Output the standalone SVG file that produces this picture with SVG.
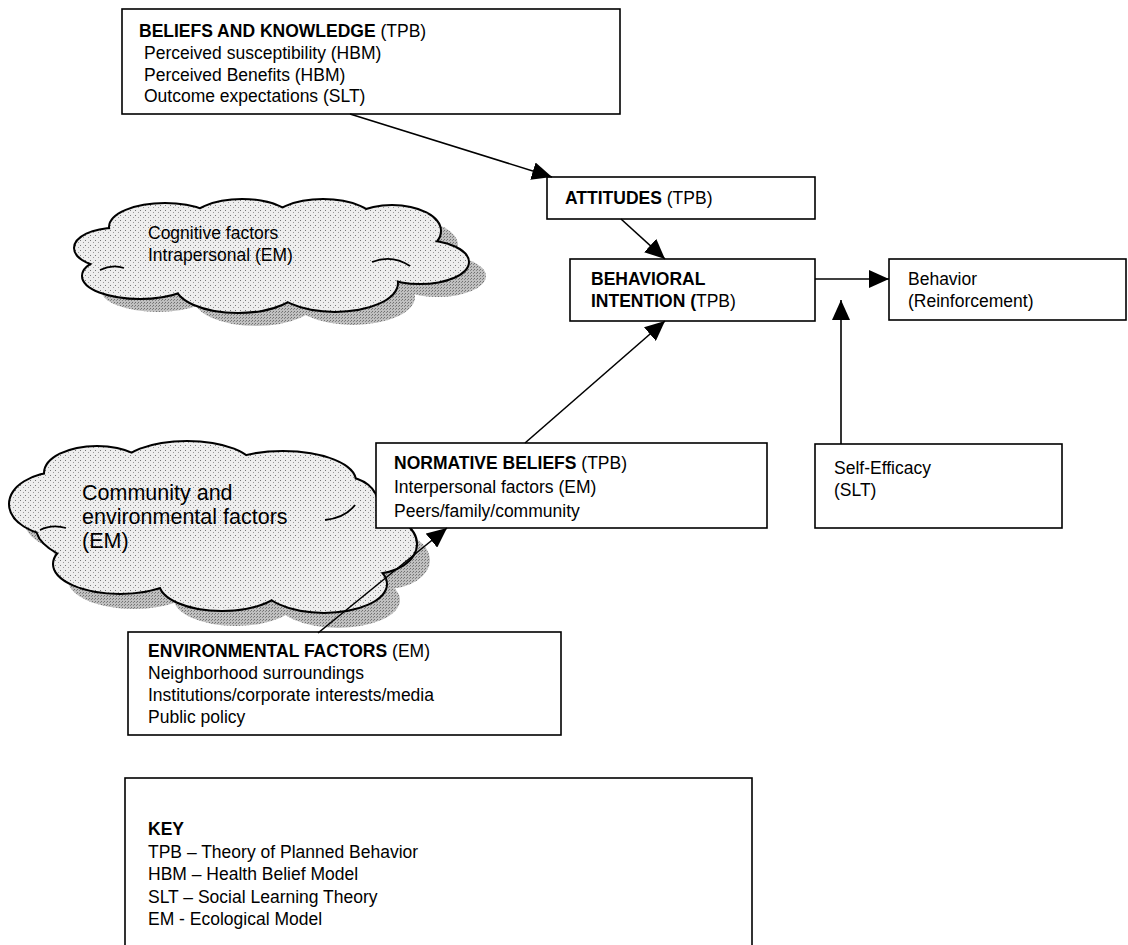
<svg xmlns="http://www.w3.org/2000/svg" width="1128" height="945" viewBox="0 0 1128 945">
<style>
  .box { fill: #fff; stroke: #000; stroke-width: 1.6; }
  .t { font-family: "Liberation Sans", Arial, sans-serif; font-size: 17.5px; fill: #000; }
  .ct { font-family: "Liberation Sans", Arial, sans-serif; font-size: 21.5px; fill: #000; }
  .b { font-weight: bold; }
  .conn { stroke: #000; stroke-width: 1.6; fill: none; marker-end: url(#ah); }
  .cl-s { fill: url(#shade); stroke: none; }
  .cl-o { fill: none; stroke: #000; stroke-width: 4; }
  .cl-f { fill: url(#stip); stroke: none; }
  .curl { fill: none; stroke: #000; stroke-width: 1.8; }
</style>
<defs>
  <marker id="ah" viewBox="0 0 20 18" refX="20" refY="9" markerWidth="20" markerHeight="18" markerUnits="userSpaceOnUse" orient="auto">
    <path d="M0,0 L20,9 L0,18 Z" fill="#000"/>
  </marker>
  <pattern id="stip" width="5" height="5" patternUnits="userSpaceOnUse">
    <rect width="5" height="5" fill="#eeeeee"/>
    <rect x="0" y="0" width="1" height="1" fill="#777"/>
    <rect x="3" y="2" width="1" height="1" fill="#999"/>
  </pattern>
  <pattern id="shade" width="3" height="3" patternUnits="userSpaceOnUse">
    <rect width="3" height="3" fill="#c0c0c0"/>
    <rect x="0" y="0" width="1" height="1" fill="#707070"/>
    <rect x="2" y="1" width="1" height="1" fill="#858585"/>
  </pattern>
  <g id="cog">
    <ellipse cx="115" cy="248" rx="40" ry="19"/>
    <ellipse cx="165" cy="227" rx="55" ry="23"/>
    <ellipse cx="242" cy="223" rx="52" ry="23"/>
    <ellipse cx="323" cy="223" rx="52" ry="23"/>
    <ellipse cx="392" cy="231" rx="48" ry="25"/>
    <ellipse cx="420" cy="262" rx="48" ry="21"/>
    <ellipse cx="335" cy="283" rx="62" ry="28"/>
    <ellipse cx="238" cy="285" rx="62" ry="27"/>
    <ellipse cx="140" cy="276" rx="57" ry="22"/>
    <ellipse cx="265" cy="255" rx="155" ry="38"/>
  </g>
  <g id="com">
    <ellipse cx="60" cy="504" rx="50" ry="31"/>
    <ellipse cx="97" cy="473" rx="52" ry="26"/>
    <ellipse cx="187" cy="468" rx="66" ry="26"/>
    <ellipse cx="283" cy="481" rx="72" ry="29"/>
    <ellipse cx="345" cy="504" rx="32" ry="26"/>
    <ellipse cx="372" cy="544" rx="44" ry="29"/>
    <ellipse cx="324" cy="584" rx="62" ry="28"/>
    <ellipse cx="222" cy="583" rx="62" ry="27"/>
    <ellipse cx="120" cy="564" rx="66" ry="29"/>
    <ellipse cx="212" cy="528" rx="175" ry="52"/>
  </g>
</defs>
<rect width="1128" height="945" fill="#fff"/>

<g id="cloud-cognitive">
  <use href="#cog" class="cl-s" transform="translate(18,14)"/>
  <use href="#cog" class="cl-o"/>
  <use href="#cog" class="cl-f"/>
  <path class="curl" d="M372,262 Q392,254 410,266"/>
  <path class="curl" d="M100,270 Q112,264 124,268"/>
  <text class="t" x="148" y="239">Cognitive factors</text>
  <text class="t" x="148" y="261">Intrapersonal (EM)</text>
</g>

<g id="cloud-community">
  <use href="#com" class="cl-s" transform="translate(14,16)"/>
  <use href="#com" class="cl-o"/>
  <use href="#com" class="cl-f"/>
  <path class="curl" d="M325,520 Q345,518 355,505"/>
  <path class="curl" d="M40,530 Q52,524 66,528"/>
  <text class="ct" x="82" y="500">Community and</text>
  <text class="ct" x="82" y="524">environmental factors</text>
  <text class="ct" x="82" y="548">(EM)</text>
</g>

<g id="beliefs">
  <rect class="box" x="122" y="9" width="498" height="105"/>
  <text class="t" x="139" y="37"><tspan class="b">BELIEFS AND KNOWLEDGE</tspan> (TPB)</text>
  <text class="t" x="144" y="59">Perceived susceptibility (HBM)</text>
  <text class="t" x="144" y="81">Perceived Benefits (HBM)</text>
  <text class="t" x="144" y="102">Outcome expectations (SLT)</text>
</g>

<g id="attitudes">
  <rect class="box" x="547" y="177" width="268" height="42"/>
  <text class="t" x="565" y="204"><tspan class="b">ATTITUDES</tspan> (TPB)</text>
</g>

<g id="intention">
  <rect class="box" x="570" y="259" width="245" height="62"/>
  <text class="t" x="591" y="285"><tspan class="b">BEHAVIORAL</tspan></text>
  <text class="t" x="591" y="307"><tspan class="b">INTENTION (</tspan>TPB)</text>
</g>

<g id="behavior">
  <rect class="box" x="889" y="259" width="237" height="61"/>
  <text class="t" x="908" y="285">Behavior</text>
  <text class="t" x="908" y="307">(Reinforcement)</text>
</g>

<g id="normative">
  <rect class="box" x="376" y="443" width="391" height="85"/>
  <text class="t" x="394" y="469"><tspan class="b">NORMATIVE BELIEFS</tspan> (TPB)</text>
  <text class="t" x="394" y="493">Interpersonal factors (EM)</text>
  <text class="t" x="394" y="517">Peers/family/community</text>
</g>

<g id="self-efficacy">
  <rect class="box" x="815" y="444" width="247" height="84"/>
  <text class="t" x="834" y="474">Self-Efficacy</text>
  <text class="t" x="834" y="496">(SLT)</text>
</g>

<g id="environmental">
  <rect class="box" x="128" y="632" width="433" height="103"/>
  <text class="t" x="148" y="657"><tspan class="b">ENVIRONMENTAL FACTORS</tspan> (EM)</text>
  <text class="t" x="148" y="679">Neighborhood surroundings</text>
  <text class="t" x="148" y="701">Institutions/corporate interests/media</text>
  <text class="t" x="148" y="723">Public policy</text>
</g>

<g id="key">
  <rect class="box" x="125" y="778" width="627" height="180"/>
  <text class="t" x="148" y="835"><tspan class="b">KEY</tspan></text>
  <text class="t" x="148" y="858">TPB – Theory of Planned Behavior</text>
  <text class="t" x="148" y="880">HBM – Health Belief Model</text>
  <text class="t" x="148" y="903">SLT – Social Learning Theory</text>
  <text class="t" x="148" y="925">EM - Ecological Model</text>
</g>

<g id="connectors">
  <line class="conn" x1="350" y1="114" x2="552" y2="177"/>
  <line class="conn" x1="621" y1="219" x2="665" y2="259"/>
  <line class="conn" x1="525" y1="443" x2="665" y2="321"/>
  <line class="conn" x1="815" y1="279" x2="889" y2="279"/>
  <line class="conn" x1="841" y1="444" x2="841" y2="300"/>
  <line class="conn" x1="318" y1="633" x2="447" y2="528"/>
</g>
</svg>
